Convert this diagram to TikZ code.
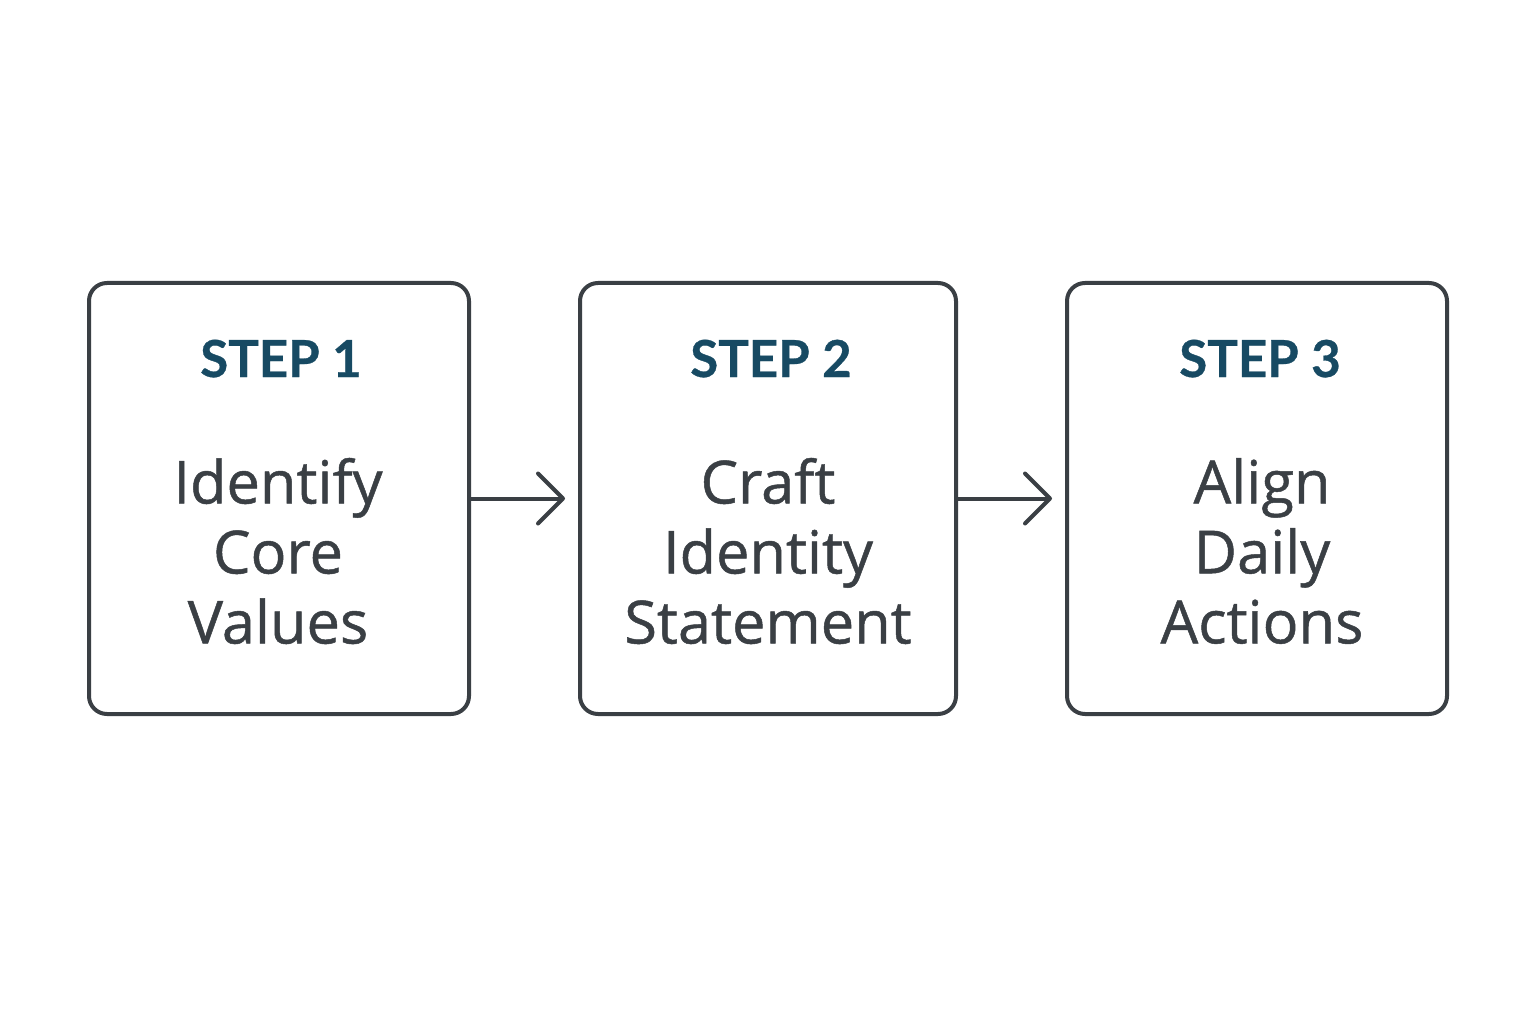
\documentclass[tikz,border=0pt]{standalone}
\usepackage{fontspec}
\setmainfont{Open Sans}
\newfontfamily\bodyfont[FakeBold=0.8]{Open Sans}
\newfontfamily\stepfont[BoldFeatures={FakeBold=0.6}]{Lato}
\usetikzlibrary{arrows.meta}
\definecolor{frame}{HTML}{3A3F44}
\definecolor{teal}{HTML}{174A63}
\definecolor{body}{HTML}{3A3F44}
\tikzset{
  stepbox/.style={draw=frame, line width=4pt, rounded corners=18pt, minimum height=431pt, inner sep=0pt, fill=white},
  steplabel/.style={text=teal, font=\stepfont\fontsize{51}{60}\selectfont\bfseries, anchor=base, inner sep=0pt},
  bodytext/.style={text=body, font=\bodyfont\fontsize{59.5}{70}\selectfont, align=center, inner sep=0pt},
  arr/.style={draw=frame, line width=4pt, -{Straight Barb[length=25pt, width=50pt, line cap=round, line join=round]}}
}
\begin{document}
\begin{tikzpicture}[x=1pt,y=-1pt]
\useasboundingbox[fill=white] (0,0) rectangle (1536,1024);
\node[stepbox, minimum width=380pt] (b1) at (279,498.5) {};
\node[stepbox, minimum width=376pt] (b2) at (768,498.5) {};
\node[stepbox, minimum width=380pt] (b3) at (1257,498.5) {};
\node[steplabel] (s1) at (281,377) {STEP 1};
\node[steplabel] (s2) at (771,377) {STEP 2};
\node[steplabel] (s3) at (1260,377) {STEP 3};
\node[bodytext] (t1) at (278,551) {Identify\\Core\\Values};
\node[bodytext] (t2) at (768,551) {Craft\\Identity\\Statement};
\node[bodytext] (t3) at (1262,551) {Align\\Daily\\Actions};
\coordinate (e1) at ([xshift=-13pt]b2.west);
\coordinate (e2) at ([xshift=-13pt]b3.west);
\draw[arr] (b1.east) -- (e1);
\draw[arr] (b2.east) -- (e2);
\end{tikzpicture}
\end{document}
